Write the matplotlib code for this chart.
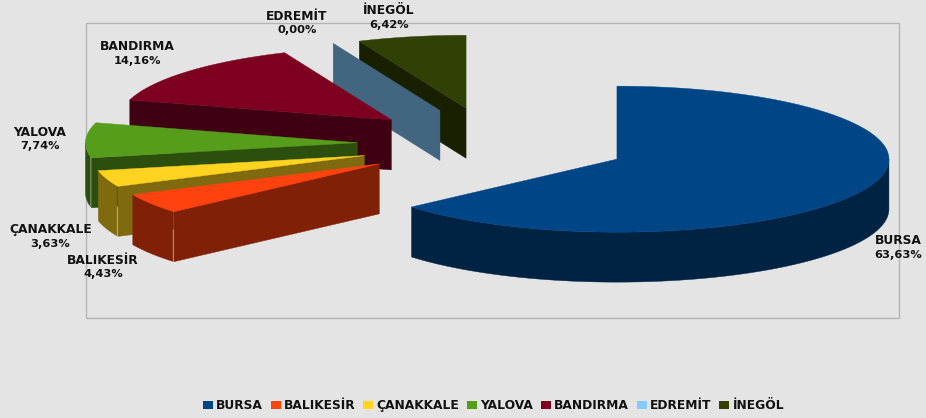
import numpy as np
from matplotlib import pyplot as plt
from matplotlib.colors import to_rgb
from matplotlib.patches import Patch, Polygon, Rectangle

# Values (percent)
names = ['BURSA', 'BALIKESİR', 'ÇANAKKALE', 'YALOVA', 'BANDIRMA', 'EDREMİT', 'İNEGÖL']
values = [63.63, 4.43, 3.63, 7.74, 14.16, 0.00, 6.42]
colors = ['#004586', '#ff420e', '#ffd320', '#579d1c', '#7e0021', '#83caff', '#314004']

# Label centres in pixels
labelX = [898, 103, 50.5, 40, 137, 297, 389]
labelY = [248, 267, 237, 139, 54, 23, 17.5]

# Pie geometry in pixels (3D pie seen from above, all slices exploded)
bg = '#e4e4e4'
centerX, centerY = 493.3, 144
radiusX, radiusY = 272, 73
depth = 50
explode = 135.9
gapPx = 1.0  # thin see-through seam between the front face and the wall


def ring(xc, yc, angles):
    # angles are degrees clockwise from 12 o'clock
    rad = np.radians(angles)
    return np.column_stack((xc + radiusX*np.sin(rad), yc - radiusY*np.cos(rad)))


def darker(color):
    return tuple(c*0.5 for c in to_rgb(color))


fig = plt.figure(figsize=(9.26, 4.18), dpi=100, facecolor=bg)
ax = fig.add_axes([0, 0, 1, 1])
ax.set_xlim(0, 926)
ax.set_ylim(418, 0)
ax.axis('off')

ax.add_patch(Rectangle((86, 23), 813, 295, fill=False, edgecolor='#b4b4b4', lw=1.0))

# Slice angles from the values
total = sum(values)
edges = np.cumsum([0] + values)/total*360

# Back slices first, Bursa is clear of the others
for i in range(len(values)-1, -1, -1):
    start, end = edges[i], edges[i+1]
    mid = np.radians((start+end)/2)
    xc = centerX + explode*np.sin(mid)
    yc = centerY - explode*radiusY/radiusX*np.cos(mid)
    wallColor = darker(colors[i])
    hasFace = 180 < start < 360

    # Radial face at the start of the slice
    if hasFace:
        outer = ring(xc, yc, np.array([start]))[0]
        face = [(xc, yc), tuple(outer), (outer[0], outer[1]+depth), (xc, yc+depth)]
        ax.add_patch(Polygon(face, closed=True, fc=wallColor, ec=wallColor, lw=0.3))

    # Outer wall, only the part looking at the viewer
    wallStart, wallEnd = max(start, 90), min(end, 270)
    if wallEnd > wallStart:
        if hasFace:
            wallStart += np.degrees(gapPx/(radiusX*abs(np.cos(np.radians(start)))))
        arc = ring(xc, yc, np.linspace(wallStart, wallEnd, 120))
        lower = arc[::-1] + [0, depth]
        ax.add_patch(Polygon(np.vstack((arc, lower)), closed=True, fc=wallColor, ec=wallColor, lw=0.3))

    # Top of the slice
    if end > start:
        arc = ring(xc, yc, np.linspace(start, end, 240))
        top = np.vstack(([[xc, yc]], arc))
        ax.add_patch(Polygon(top, closed=True, fc=colors[i], ec=colors[i], lw=0.3))

# Data labels, the names run a little wider than the numbers
for name, value, x, y in zip(names, values, labelX, labelY):
    ax.text(x, y-7, name, ha='center', va='center', fontsize=8.8, fontweight='bold',
            color='#111111', family='DejaVu Sans')
    ax.text(x, y+7, ('%.2f' % value).replace('.', ',') + '%', ha='center', va='center',
            fontsize=8.2, fontweight='bold', color='#111111', family='DejaVu Sans')

handles = [Patch(facecolor=c, edgecolor='none', label=n) for c, n in zip(colors, names)]
ax.legend(handles=handles, ncol=7, loc='center', bbox_to_anchor=(493.5/926, 1-405.5/418),
          frameon=False, handlelength=0.82, handleheight=0.65, handletextpad=0.25,
          columnspacing=0.65, borderpad=0, borderaxespad=0,
          prop={'size': 8.8, 'weight': 'bold', 'family': 'DejaVu Sans'}, labelcolor='#111111')

fig.savefig('out.png', dpi=100, facecolor=bg)
